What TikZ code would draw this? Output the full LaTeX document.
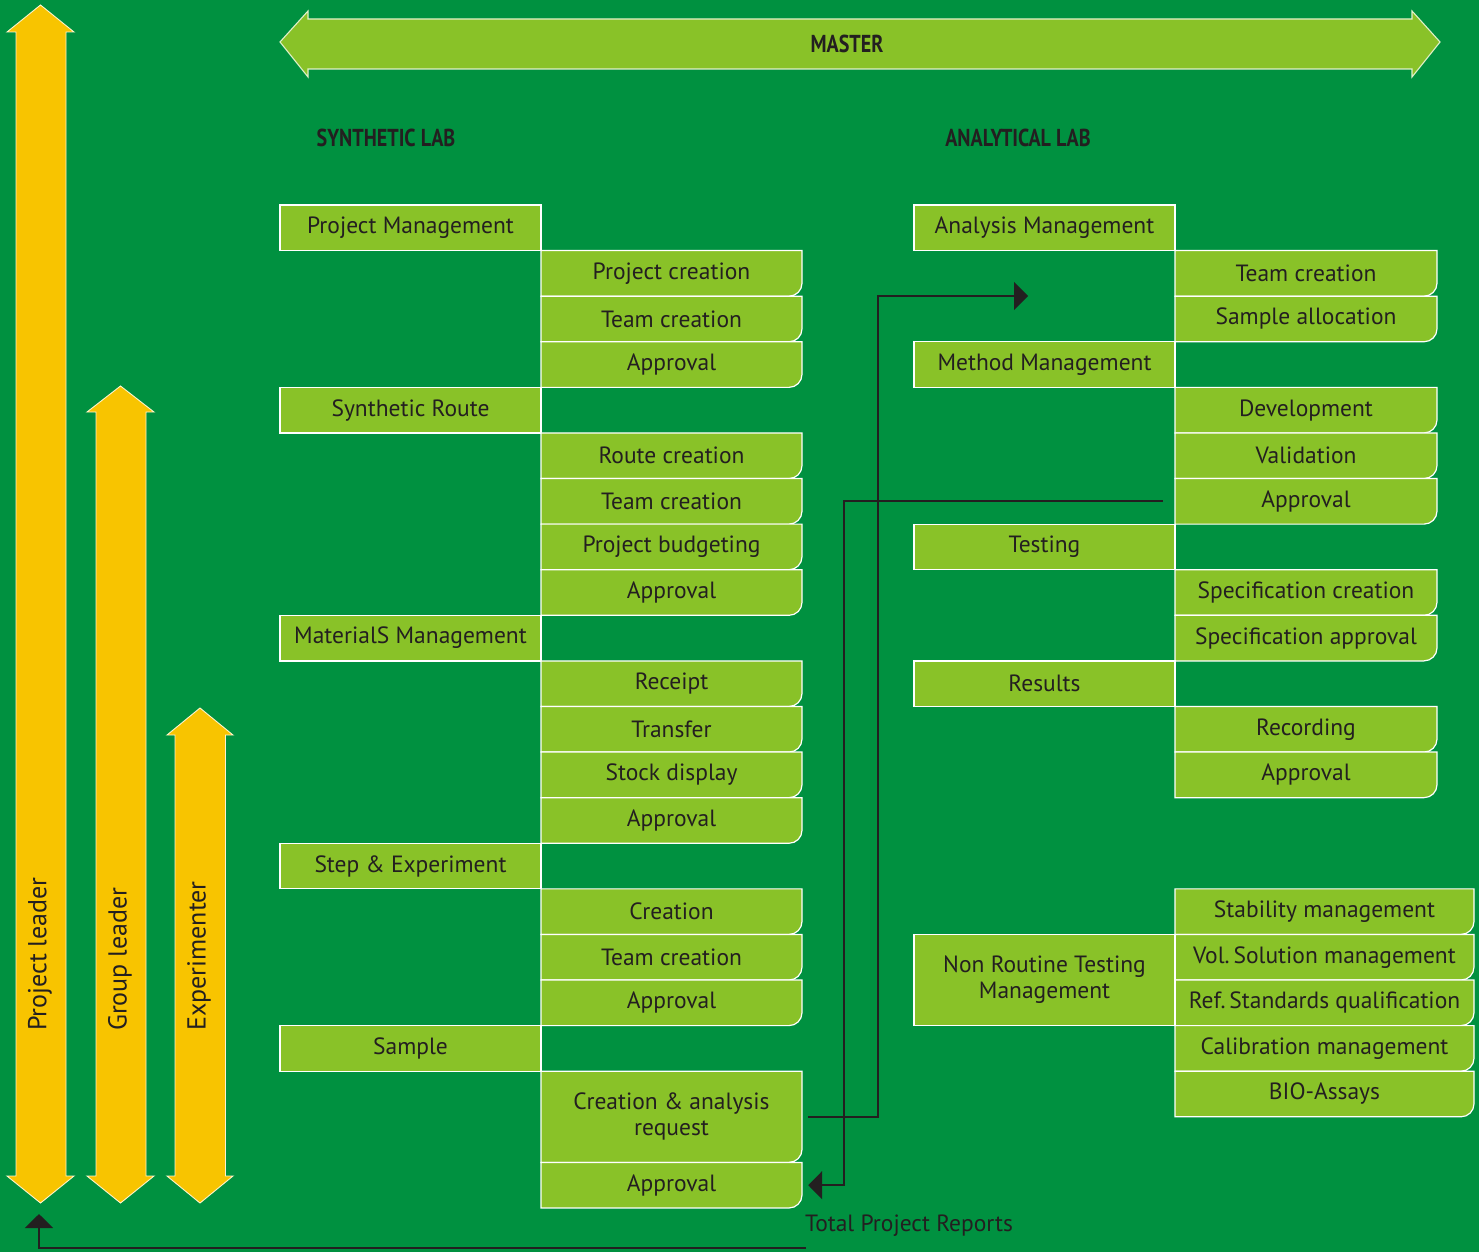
\documentclass[tikz,border=0pt]{standalone}
\usepackage{fontspec}
\setmainfont{PT Sans}
\newfontfamily\headfont{PT Sans}[FakeStretch=0.82]
\usetikzlibrary{arrows.meta}
\definecolor{bg}{RGB}{0,145,64}
\definecolor{lg}{RGB}{137,194,40}
\definecolor{yel}{RGB}{248,196,0}
\definecolor{txt}{HTML}{231F20}
\tikzset{
  mainbox/.style={draw=white, line width=1.2, fill=lg, text=txt, font=\fontsize{23.5}{26}\selectfont, inner sep=0, align=center},
  lbl/.style={text=txt, font=\fontsize{23.5}{26}\selectfont, inner sep=0, align=center},
  subshape/.style={draw=white, line width=1.2, fill=lg},
  bigarrow/.style={fill=yel, draw=white!80!yel, line width=0.9},
  masterarrow/.style={fill=lg, draw=white!75!lg, line width=1.1},
  head/.style={text=txt, font=\headfont\bfseries\fontsize{24.5}{28}\selectfont, inner sep=0},
  role/.style={text=txt, font=\fontsize{26}{29}\selectfont, inner sep=0, rotate=90, anchor=west},
  conn/.style={draw=txt, line width=1.8},
  tip/.style={-{Triangle[length=14pt,width=28pt]}}
}
\newcommand\mainbx[6]{%
  \pgfmathsetmacro\mya{205+#4*45.59}%
  \pgfmathsetmacro\myb{205+(#4+#5)*45.59}%
  \pgfmathsetmacro\mybw{#3-#2}\pgfmathsetmacro\mybh{\myb-\mya}%
  \node[mainbox, minimum width=\mybw pt, minimum height=\mybh pt] (#1) at ({(#2+#3)/2},{(\mya+\myb)/2}) {#6};}
\newcommand\subbx[6]{%
  \pgfmathsetmacro\mya{205+#4*45.59}%
  \pgfmathsetmacro\myb{205+(#4+#5)*45.59}%
  \pgfmathsetmacro\mybw{#3-#2}\pgfmathsetmacro\mybh{\myb-\mya}%
  \pgfmathsetmacro\myyc{\myb-13}\pgfmathsetmacro\myxc{#3-13}%
  \pgfmathsetmacro\myyd{\myb-5.8}\pgfmathsetmacro\myxd{#3-5.8}%
  \path[subshape] (#2,\mya) -- (#3,\mya) -- (#3,\myyc) .. controls (#3,\myyd) and (\myxd,\myb) .. (\myxc,\myb) -- (#2,\myb) -- cycle;
  \node[lbl, minimum width=\mybw pt, minimum height=\mybh pt] (#1) at ({(#2+#3)/2},{(\mya+\myb)/2}) {#6};}
\begin{document}
\begin{tikzpicture}[x=1pt,y=-1pt]
\useasboundingbox (0,0) rectangle (1479,1252);
\fill[bg] (0,0) rectangle (1479,1252);

% role arrows
\path[bigarrow] (40.5,5) -- (74,32) -- (66,32) -- (66,1176) -- (74,1176) -- (40.5,1203) -- (7,1176) -- (16,1176) -- (16,32) -- (7,32) -- cycle;
\path[bigarrow] (120.5,386) -- (154,412) -- (146,412) -- (146,1176) -- (154,1176) -- (120.5,1203) -- (87,1176) -- (96,1176) -- (96,412) -- (87,412) -- cycle;
\path[bigarrow] (200,708) -- (233,735) -- (225.5,735) -- (225.5,1176) -- (233,1176) -- (200,1203) -- (167,1176) -- (175,1176) -- (175,735) -- (167,735) -- cycle;
\node[role] (pl) at (40,1031) {Project leader};
\node[role] (gl) at (120,1031) {Group leader};
\node[role] (ex) at (199,1031) {Experimenter};

% master arrow
\path[masterarrow] (280,42) -- (308,11) -- (308,19) -- (1412,19) -- (1412,11) -- (1440,42) -- (1412,77) -- (1412,69) -- (308,69) -- (308,77) -- cycle;
\node[head] (master) at (847,44) {MASTER};

\node[head] (synlab) at (386,138) {SYNTHETIC LAB};
\node[head] (analab) at (1018,138) {ANALYTICAL LAB};

% synthetic lab
\mainbx{pm}{280}{541}{0}{1}{Project Management}
\subbx{pcr}{541}{802}{1}{1}{Project creation}
\subbx{ptc}{541}{802}{2}{1}{Team creation}
\subbx{pap}{541}{802}{3}{1}{Approval}
\mainbx{sr}{280}{541}{4}{1}{Synthetic Route}
\subbx{rcr}{541}{802}{5}{1}{Route creation}
\subbx{rtc}{541}{802}{6}{1}{Team creation}
\subbx{rpb}{541}{802}{7}{1}{Project budgeting}
\subbx{rap}{541}{802}{8}{1}{Approval}
\mainbx{mm}{280}{541}{9}{1}{MaterialS Management}
\subbx{mrc}{541}{802}{10}{1}{Receipt}
\subbx{mtr}{541}{802}{11}{1}{Transfer}
\subbx{msd}{541}{802}{12}{1}{Stock display}
\subbx{map}{541}{802}{13}{1}{Approval}
\mainbx{se}{280}{541}{14}{1}{Step \& Experiment}
\subbx{ecr}{541}{802}{15}{1}{Creation}
\subbx{etc}{541}{802}{16}{1}{Team creation}
\subbx{eap}{541}{802}{17}{1}{Approval}
\mainbx{sa}{280}{541}{18}{1}{Sample}
\subbx{sreq}{541}{802}{19}{2}{Creation \& analysis\\request}
\subbx{sap}{541}{802}{21}{1}{Approval}

% analytical lab
\mainbx{am}{914}{1175}{0}{1}{Analysis Management}
\subbx{atc}{1175}{1437}{1}{1}{Team creation}
\subbx{asa}{1175}{1437}{2}{1}{Sample allocation}
\mainbx{metm}{914}{1175}{3}{1}{Method Management}
\subbx{dev}{1175}{1437}{4}{1}{Development}
\subbx{val}{1175}{1437}{5}{1}{Validation}
\subbx{vap}{1175}{1437}{6}{1}{Approval}
\mainbx{tst}{914}{1175}{7}{1}{Testing}
\subbx{spc}{1175}{1437}{8}{1}{Specification creation}
\subbx{spa}{1175}{1437}{9}{1}{Specification approval}
\mainbx{res}{914}{1175}{10}{1}{Results}
\subbx{rec}{1175}{1437}{11}{1}{Recording}
\subbx{rsap}{1175}{1437}{12}{1}{Approval}
\subbx{stab}{1175}{1474}{15}{1}{Stability management}
\subbx{vol}{1175}{1474}{16}{1}{Vol.\,Solution management}
\subbx{ref}{1175}{1474}{17}{1}{Ref.\,Standards qualification}
\subbx{cal}{1175}{1474}{18}{1}{Calibration management}
\subbx{bio}{1175}{1474}{19}{1}{BIO-Assays}
\mainbx{nrt}{914}{1175}{16}{2}{Non Routine Testing\\Management}

% connectors
\coordinate (tgt) at (1028,296);
\draw[conn,tip] ([xshift=6pt]sreq.east) -- ++(70,0) |- (tgt);
\draw[conn,tip] ([xshift=-12pt]vap.west) -- ++(-319,0) |- ([xshift=6pt]sap.east);

\node[lbl, anchor=west] (tpr) at (805,1226) {Total Project Reports};
\coordinate (rep) at (806,1248);
\coordinate (pltip) at (39,1214);
\draw[conn,tip] (rep) -| (pltip);
\end{tikzpicture}
\end{document}
